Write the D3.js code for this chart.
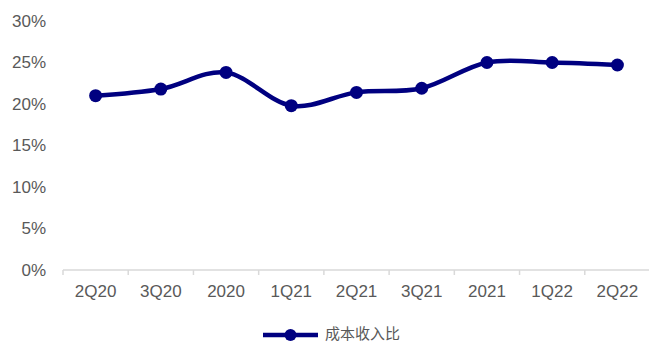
<!DOCTYPE html>
<html>
<head>
<meta charset="utf-8">
<script src="https://cdn.jsdelivr.net/npm/d3@7"></script>
<style>
  body { margin: 0; background: #fff; }
  text { font-family: Arial, "Liberation Sans", sans-serif; fill: #595959; }
</style>
</head>
<body>
<svg id="chart" width="649" height="344"></svg>
<script>
// Data
var quarters = ['2Q20', '3Q20', '2020', '1Q21', '2Q21', '3Q21', '2021', '1Q22', '2Q22'];
var ratios = [21.0, 21.8, 23.8, 19.8, 21.4, 21.9, 25.0, 25.0, 24.7];
var yTicks = [0, 5, 10, 15, 20, 25, 30];
var seriesName = '成本收入比';

var navy = '#000080';
var svg = d3.select('#chart');

// Scales
var xScale = d3.scaleBand()
    .domain(quarters)
    .range([63, 650]);

var yScale = d3.scaleLinear()
    .domain([0, 30])
    .range([270, 21]);

// y axis labels (no axis line)
var yAxis = d3.axisLeft(yScale)
    .tickValues(yTicks)
    .tickSize(0)
    .tickPadding(0)
    .tickFormat(function(d) { return d + '%'; });

svg.append('g')
    .attr('class', 'y axis')
    .attr('transform', 'translate(46,0)')
    .call(yAxis)
    .call(function(g) { g.select('.domain').remove(); })
    .selectAll('text')
    .style('font-size', '17px')
    .attr('fill', '#595959');

// x axis with band boundary ticks
var xAxis = d3.axisBottom(xScale).tickSize(0).tickPadding(15);
var gx = svg.append('g')
    .attr('class', 'x axis')
    .attr('transform', 'translate(0,270)')
    .call(xAxis);
gx.select('.domain').remove();
gx.selectAll('text').style('font-size', '17px').attr('fill', '#595959');

gx.append('line')
    .attr('x1', xScale.range()[0])
    .attr('x2', xScale.range()[1])
    .attr('stroke', '#d9d9d9')
    .attr('stroke-width', 1.5);

gx.selectAll('.bound')
    .data(quarters)
    .enter()
    .append('line')
    .attr('class', 'bound')
    .attr('x1', function(d) { return xScale(d); })
    .attr('x2', function(d) { return xScale(d); })
    .attr('y1', 0)
    .attr('y2', 5)
    .attr('stroke', '#d9d9d9')
    .attr('stroke-width', 1.5);

// Smoothed line
var points = quarters.map(function(q, i) { return { q: q, v: ratios[i] }; });

var line = d3.line()
    .x(function(d) { return xScale(d.q) + xScale.bandwidth() / 2; })
    .y(function(d) { return yScale(d.v); })
    .curve(d3.curveCardinal.tension(0));

svg.append('path')
    .datum(points)
    .attr('d', line)
    .attr('fill', 'none')
    .attr('stroke', navy)
    .attr('stroke-width', 4.5);

svg.selectAll('.dot')
    .data(points)
    .enter()
    .append('circle')
    .attr('class', 'dot')
    .attr('cx', function(d) { return xScale(d.q) + xScale.bandwidth() / 2; })
    .attr('cy', function(d) { return yScale(d.v); })
    .attr('r', 6.5)
    .attr('fill', navy);

// Legend
var legend = svg.append('g').attr('transform', 'translate(263,335)');
legend.append('line')
    .attr('x1', 0).attr('x2', 55)
    .attr('stroke', navy)
    .attr('stroke-width', 4.5);
legend.append('circle')
    .attr('cx', 27.5)
    .attr('r', 6)
    .attr('fill', navy);
legend.append('text')
    .attr('x', 62)
    .attr('y', 4)
    .style('font-family', '"Noto Sans CJK SC", sans-serif')
    .style('font-size', '15px')
    .text(seriesName);
</script>
</body>
</html>
